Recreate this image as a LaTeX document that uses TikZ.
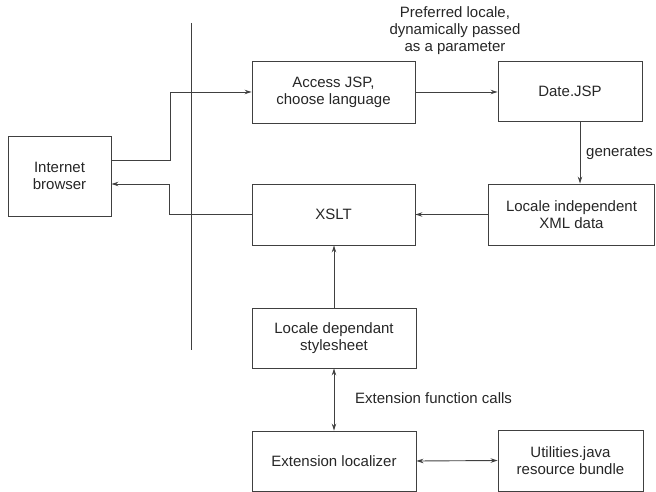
\documentclass[tikz,border=0pt]{standalone}
\usepackage{fontspec}
\setmainfont{Liberation Sans}
\usetikzlibrary{arrows.meta}
\begin{document}
\begin{tikzpicture}[x=1pt,y=-1pt,
  every node/.style={font=\fontsize{15}{17}\selectfont, text=black!85},
  box/.style={draw=black!75, line width=0.9pt, inner sep=0pt, align=center},
  arr/.style={draw=black!75, line width=0.9pt, -{Stealth[length=7pt,width=4.5pt]}},
  darr/.style={draw=black!75, line width=0.9pt, {Stealth[length=7pt,width=4.5pt]}-{Stealth[length=7pt,width=4.5pt]}},
  lbl/.style={align=center, inner sep=0pt}]
\useasboundingbox (0,0) rectangle (656,492);
\node[box, minimum width=103pt, minimum height=80pt] (browser) at (59.5,176) {Internet\\browser};
\node[box, minimum width=163pt, minimum height=62pt] (access) at (333.5,92) {Access JSP,\\choose language};
\node[box, minimum width=144pt, minimum height=60pt] (date) at (570,91) {Date.JSP};
\node[box, minimum width=166pt, minimum height=61pt] (indep) at (571.5,214.5) {Locale independent\\XML data};
\node[box, minimum width=163pt, minimum height=61pt] (xslt) at (333.5,214.5) {XSLT};
\node[box, minimum width=164pt, minimum height=60pt] (dep) at (334,338) {Locale dependant\\stylesheet};
\node[box, minimum width=164pt, minimum height=60pt] (loc) at (334,461) {Extension localizer};
\node[box, minimum width=145pt, minimum height=61pt] (util) at (570.5,460.5) {Utilities.java\\resource bundle};
\coordinate (vtop) at (191,23);
\coordinate (vbot) at (191,350);
\draw[draw=black!75, line width=0.9pt] (vtop) -- (vbot);
\node[lbl] (pref) at (455,31) {Preferred locale,\\dynamically passed\\as a parameter};
\node[lbl, anchor=west] (gen) at (586,153) {generates};
\node[lbl, anchor=west] (ext) at (355,398) {Extension function calls};
\draw[arr] ([yshift=16pt]browser.east) -- ++(59,0) |- (access.west);
\draw[arr] (xslt.west) -- ++(-82,0) |- ([yshift=-8pt]browser.east);
\draw[arr] (access.east) -- (date.west |- access.east);
\draw[arr] ([xshift=10pt]date.south) -- ([xshift=10pt]date.south |- indep.north);
\draw[arr] (indep.west) -- (xslt.east);
\draw[arr] (dep.north) -- (dep.north |- xslt.south);
\draw[darr] (dep.south) -- (loc.north);
\draw[darr] (loc.east) -- (util.west);
\end{tikzpicture}
\end{document}
